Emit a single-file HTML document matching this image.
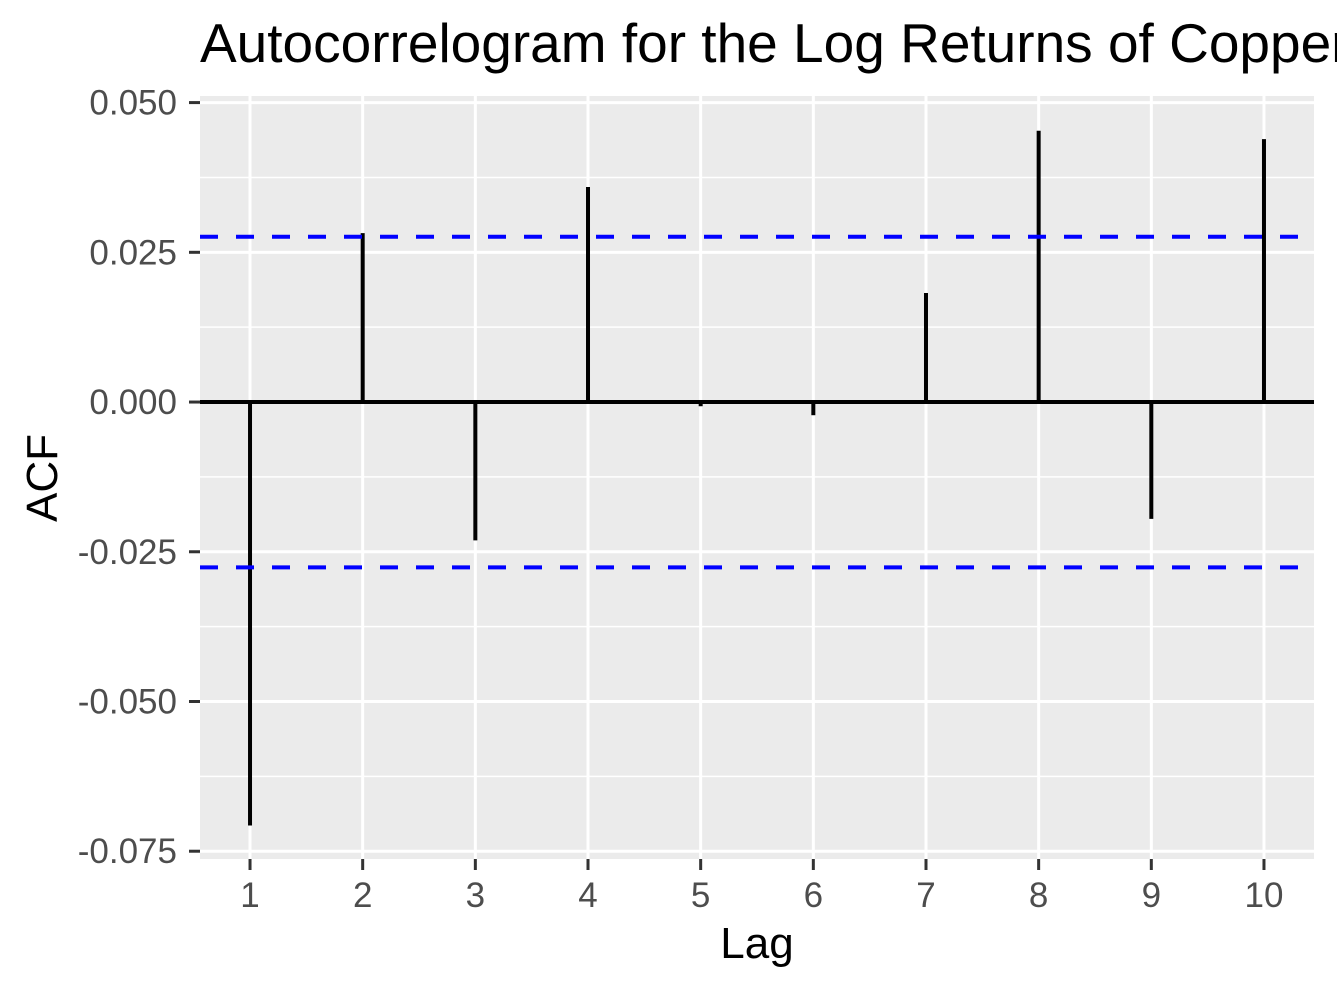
<!DOCTYPE html>
<html><head><meta charset="utf-8"><style>
body{margin:0;background:#fff;overflow:hidden;}
svg text{font-family:"Liberation Sans",Arial,sans-serif;}
</style></head><body>
<svg id="chart" width="1337" height="989" xmlns="http://www.w3.org/2000/svg"></svg>
<script>
const lags = [1,2,3,4,5,6,7,8,9,10];
const acfValues = [-0.0707,0.0282,-0.0231,0.0359,-0.0007,-0.0022,0.0182,0.0453,-0.0195,0.0439];
const ciBound = [0.0276];
const yTicks = [0.05,0.025,0,-0.025,-0.05,-0.075];
const yTickLabels = ["0.050","0.025","0.000","-0.025","-0.050","-0.075"];
const xTickLabels = ["1","2","3","4","5","6","7","8","9","10"];

const svg = document.getElementById('chart');
const NS = 'http://www.w3.org/2000/svg';
const P = {l:200,r:1314,t:96,b:859};
const xMin=0.556, xMax=10.444, yMin=-0.0763, yMax=0.0511;
const sx = v => P.l + (v-xMin)/(xMax-xMin)*(P.r-P.l);
const sy = v => P.b - (v-yMin)/(yMax-yMin)*(P.b-P.t);
function mk(tag, attrs, parent){
  const e=document.createElementNS(NS,tag);
  for(const k in attrs) e.setAttribute(k,attrs[k]);
  (parent||svg).appendChild(e); return e;
}
const bg = mk('rect',{x:P.l,y:P.t,width:P.r-P.l,height:P.b-P.t,fill:'#ebebeb'});


for(let i=0;i<yTicks.length-1;i++){
  const v=(yTicks[i]+yTicks[i+1])/2;
  const g=mk('line',{x1:P.l,x2:P.r,y1:sy(v),y2:sy(v),stroke:'#fff','stroke-width':1.5});
  
  
}
yTicks.forEach((v,i)=>{
  const g=mk('line',{x1:P.l,x2:P.r,y1:sy(v),y2:sy(v),stroke:'#fff','stroke-width':3});
  
  
  const t=mk('line',{x1:P.l-11,x2:P.l,y1:sy(v),y2:sy(v),stroke:'#333','stroke-width':3});
  
  
  const tx=mk('text',{x:P.l-23,y:sy(v)+12,'text-anchor':'end','font-size':35,fill:'#4d4d4d'});
  tx.textContent=yTickLabels[i];
  
  
});
lags.forEach((v,i)=>{
  const g=mk('line',{x1:sx(v),x2:sx(v),y1:P.t,y2:P.b,stroke:'#fff','stroke-width':3});
  
  
  const t=mk('line',{x1:sx(v),x2:sx(v),y1:P.b,y2:P.b+11,stroke:'#333','stroke-width':3});
  
  
  const tx=mk('text',{x:sx(v),y:907,'text-anchor':'middle','font-size':35,fill:'#4d4d4d'});
  tx.textContent=xTickLabels[i];
  
  
});
const z=mk('line',{x1:P.l,x2:P.r,y1:sy(0),y2:sy(0),stroke:'#000','stroke-width':4});


lags.forEach((v,i)=>{
  const b=mk('line',{x1:sx(v),x2:sx(v),y1:sy(0),y2:sy(acfValues[i]),stroke:'#000','stroke-width':4});
  
  
});
[ciBound[0],-ciBound[0]].forEach(v=>{
  const c=mk('line',{x1:P.l,x2:P.r,y1:sy(v),y2:sy(v),stroke:'#0000ff','stroke-width':4,'stroke-dasharray':'18,18'});
  
  
});
const title=mk('text',{x:200,y:62,'font-size':55,fill:'#000'});
title.textContent='Autocorrelogram for the Log Returns of Copper';


const xl=mk('text',{x:(P.l+P.r)/2,y:958,'text-anchor':'middle','font-size':44,fill:'#000'});
xl.textContent='Lag';


const yl=mk('text',{x:0,y:0,'text-anchor':'middle','font-size':44,fill:'#000',transform:'translate(57,478) rotate(-90)'});
yl.textContent='ACF';


</script>
</body></html>
